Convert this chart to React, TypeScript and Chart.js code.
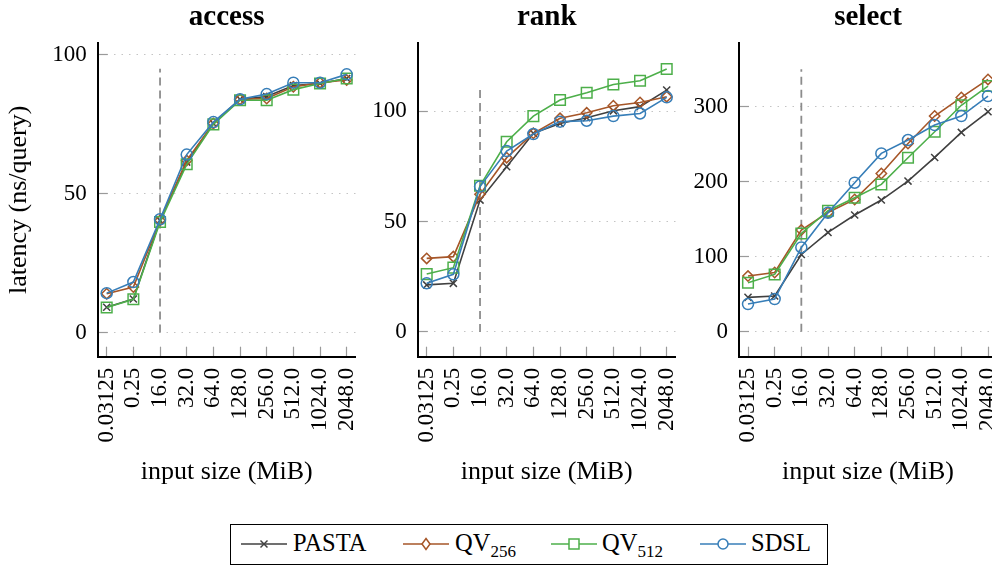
import React, { useEffect, useRef } from "react";
import { Chart, registerables } from "chart.js";

Chart.register(...registerables);

// ---------- data ----------
const sizes = ["0.03125", "0.25", "16.0", "32.0", "64.0", "128.0", "256.0", "512.0", "1024.0", "2048.0"];
const seriesNames = ["PASTA", "QV256", "QV512", "SDSL"];

const accessPASTA = [9.1, 12.1, 40.4, 61.4, 75.3, 84, 85, 89, 89.7, 91.5];
const accessQV256 = [14, 16.4, 40.4, 62, 75.3, 84, 84.3, 88.5, 90, 91];
const accessQV512 = [9, 12, 39.8, 60.6, 75, 83.7, 83.7, 87.5, 89.7, 91.5];
const accessSDSL = [14.2, 18.2, 40.8, 64.1, 75.8, 84, 85.9, 90, 90, 93];

const rankPASTA = [21.3, 22, 59.7, 74.8, 89.9, 94.4, 97, 100.1, 102, 109.5];
const rankQV256 = [33.3, 34.1, 62.3, 78.9, 89.9, 96.7, 99.2, 102.4, 103.9, 106.5];
const rankQV512 = [26.2, 29.1, 66.2, 86.1, 97.7, 105, 108.3, 112, 113.7, 119];
const rankSDSL = [22, 26.1, 65.8, 81.9, 89.6, 95.2, 95.6, 97.7, 98.9, 106.2];

const selectPASTA = [45.8, 47.6, 103, 132.4, 155.6, 175.6, 200.9, 232.4, 265.8, 293.3];
const selectQV256 = [74.2, 79, 135.6, 159, 176.4, 211, 251, 287.6, 312.4, 336.4];
const selectQV512 = [65.3, 76.4, 131, 161.3, 178.7, 196.4, 232, 266.7, 302, 327.6];
const selectSDSL = [36.9, 43.6, 112.4, 158.7, 198.7, 237.8, 255.6, 275.6, 287.6, 314.2];

const accessYTicks = [0, 50, 100];
const rankYTicks = [0, 50, 100];
const selectYTicks = [0, 100, 200, 300];

// vertical dashed marker at category "16.0"
const dashIndex = 2;
const dashTops = [95, 110, 350];

// ---------- style ----------
const FONT = "'Liberation Serif', 'Times New Roman', serif";
const H = 500;
const seriesStyles = [
  { color: "#404040", pointStyle: "crossRot", radius: 5 },
  { color: "#a65628", pointStyle: "rectRot", radius: 5.2 },
  { color: "#4daf4a", pointStyle: "rect", radius: 7.5 },
  { color: "#377eb8", pointStyle: "circle", radius: 5.5 },
];

type PanelProps = {
  left: number;
  width: number;
  axisWidth: number;
  title: string;
  yTitle?: string;
  series: number[][];
  yMin: number;
  yMax: number;
  yTicks: number[];
  dashTop: number;
};

function Panel(p: PanelProps) {
  const ref = useRef<HTMLCanvasElement>(null);
  useEffect(() => {
    const plotW = 258;
    const padRight = p.width - p.axisWidth - plotW;
    const datasets: any[] = p.series.map((vals, i) => ({
      label: seriesNames[i],
      data: vals.map((y, x) => ({ x, y })),
      borderColor: seriesStyles[i].color,
      backgroundColor: "transparent",
      pointBackgroundColor: "transparent",
      pointBorderColor: seriesStyles[i].color,
      pointStyle: seriesStyles[i].pointStyle,
      pointRadius: seriesStyles[i].radius,
      pointBorderWidth: 1.5,
      borderWidth: 1.6,
      tension: 0,
      order: 3 - i,
    }));
    datasets.push({
      label: "marker",
      data: [
        { x: dashIndex, y: 0 },
        { x: dashIndex, y: p.dashTop },
      ],
      borderColor: "#8c8c8c",
      borderDash: [8, 5],
      borderWidth: 1.8,
      pointRadius: 0,
      order: 10,
    });
    const chart = new Chart(ref.current as HTMLCanvasElement, {
      type: "line",
      data: { datasets },
      options: {
        responsive: false,
        animation: false,
        events: [],
        layout: { padding: { left: 0, right: padRight, top: 0, bottom: 0 } },
        plugins: {
          legend: { display: false },
          tooltip: { enabled: false },
          title: {
            display: true,
            text: p.title,
            fullSize: false,
            color: "#000",
            font: { family: FONT, size: 29, weight: "bold", lineHeight: 1 },
            padding: { top: 3, bottom: 11 },
          },
        },
        scales: {
          x: {
            type: "linear",
            min: -0.3375,
            max: 9.3375,
            afterBuildTicks: (s: any) => {
              s.ticks = sizes.map((_, i) => ({ value: i }));
            },
            afterFit: (s: any) => {
              s.height = H - 356.7;
              s.paddingLeft = 0;
              s.paddingRight = 0;
            },
            ticks: {
              autoSkip: false,
              maxRotation: 90,
              minRotation: 90,
              padding: 21,
              color: "#000",
              font: { family: FONT, size: 23 },
              callback: (v: any) => sizes[v as number] ?? "",
            },
            grid: {
              drawOnChartArea: false,
              drawTicks: true,
              tickLength: -10,
              tickColor: "#9a9a9a",
              tickWidth: 1.2,
            },
            border: { display: true, color: "#000", width: 2 },
            title: {
              display: true,
              text: "input size (MiB)",
              color: "#000",
              font: { family: FONT, size: 26 },
              padding: { top: 0, bottom: 12 },
            },
          },
          y: {
            type: "linear",
            min: p.yMin,
            max: p.yMax,
            afterBuildTicks: (s: any) => {
              s.ticks = p.yTicks.map((v) => ({ value: v }));
            },
            afterFit: (s: any) => {
              s.width = p.axisWidth;
              s.paddingTop = 0;
              s.paddingBottom = 0;
            },
            ticks: {
              padding: 21,
              color: "#000",
              font: { family: FONT, size: 23 },
            },
            grid: {
              color: "#c4c4c4",
              lineWidth: 1,
              drawTicks: true,
              tickLength: -10,
              tickColor: "#9a9a9a",
              tickWidth: 1.2,
            },
            border: { display: true, color: "#000", width: 2, dash: [1.5, 6] },
            title: p.yTitle
              ? {
                  display: true,
                  text: p.yTitle,
                  color: "#000",
                  font: { family: FONT, size: 26 },
                  padding: { top: 4, bottom: 0 },
                }
              : { display: false },
          },
        },
      } as any,
    });
    return () => chart.destroy();
  }, []);
  return (
    <canvas
      ref={ref}
      width={p.width}
      height={H}
      style={{ position: "absolute", left: p.left, top: 0, width: p.width, height: H }}
    />
  );
}

function Marker({ kind, color }: { kind: number; color: string }) {
  const cx = 23;
  const cy = 10;
  let m: React.ReactNode = null;
  if (kind === 0)
    m = (
      <g stroke={color} strokeWidth={1.5}>
        <line x1={cx - 3.5} y1={cy - 3.5} x2={cx + 3.5} y2={cy + 3.5} />
        <line x1={cx - 3.5} y1={cy + 3.5} x2={cx + 3.5} y2={cy - 3.5} />
      </g>
    );
  if (kind === 1)
    m = (
      <polygon
        points={`${cx},${cy - 5.5} ${cx + 4},${cy} ${cx},${cy + 5.5} ${cx - 4},${cy}`}
        fill="#fff"
        stroke={color}
        strokeWidth={1.5}
      />
    );
  if (kind === 2) m = <rect x={cx - 5} y={cy - 5} width={10} height={10} fill="#fff" stroke={color} strokeWidth={1.5} />;
  if (kind === 3) m = <circle cx={cx} cy={cy} r={5} fill="#fff" stroke={color} strokeWidth={1.5} />;
  return (
    <svg width={46} height={20} style={{ display: "block" }}>
      <line x1={0} y1={cy} x2={46} y2={cy} stroke={color} strokeWidth={1.6} />
      {m}
    </svg>
  );
}

function Legend() {
  const sampleX = [10, 172, 320, 469];
  const textX = [62, 224, 371, 520];
  const labels: React.ReactNode[] = [
    "PASTA",
    <>
      QV<span style={{ fontSize: 17, position: "relative", top: 6 }}>256</span>
    </>,
    <>
      QV<span style={{ fontSize: 17, position: "relative", top: 6 }}>512</span>
    </>,
    "SDSL",
  ];
  return (
    <div
      style={{
        position: "absolute",
        left: 230,
        top: 524,
        width: 598,
        height: 41,
        border: "1.6px solid #000",
        boxSizing: "border-box",
        fontFamily: FONT,
        fontSize: 24.5,
        color: "#000",
      }}
    >
      {seriesNames.map((n, i) => (
        <React.Fragment key={n}>
          <div style={{ position: "absolute", left: sampleX[i], top: 9 }}>
            <Marker kind={i} color={seriesStyles[i].color} />
          </div>
          <div style={{ position: "absolute", left: textX[i], top: 6, lineHeight: "24.5px", whiteSpace: "nowrap" }}>
            {labels[i]}
          </div>
        </React.Fragment>
      ))}
    </div>
  );
}

export default function App() {
  return (
    <div
      style={{
        position: "fixed",
        left: 0,
        top: 0,
        width: 992,
        height: 568,
        overflow: "hidden",
        background: "#fff",
      }}
    >
      <Panel
        left={0}
        width={372}
        axisWidth={97.7}
        title="access"
        yTitle="latency (ns/query)"
        series={[accessPASTA, accessQV256, accessQV512, accessSDSL]}
        yMin={-8.7}
        yMax={104.3}
        yTicks={accessYTicks}
        dashTop={dashTops[0]}
      />
      <Panel
        left={330}
        width={362}
        axisWidth={87.7}
        title="rank"
        series={[rankPASTA, rankQV256, rankQV512, rankSDSL]}
        yMin={-11.2}
        yMax={130.8}
        yTicks={rankYTicks}
        dashTop={dashTops[1]}
      />
      <Panel
        left={660}
        width={350}
        axisWidth={79}
        title="select"
        series={[selectPASTA, selectQV256, selectQV512, selectSDSL]}
        yMin={-33.3}
        yMax={385}
        yTicks={selectYTicks}
        dashTop={dashTops[2]}
      />
      <Legend />
    </div>
  );
}
